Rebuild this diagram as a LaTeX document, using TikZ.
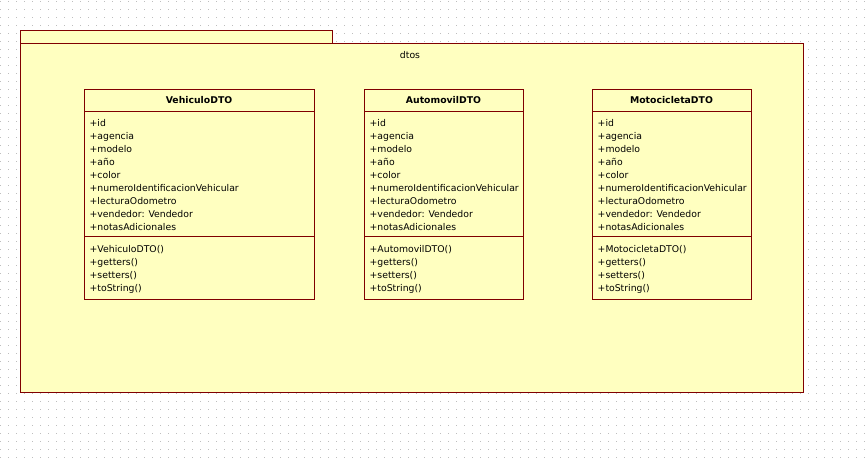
\documentclass[tikz,border=0pt]{standalone}
\usepackage{fontspec}
\setmainfont{DejaVu Sans}
\definecolor{umlfill}{RGB}{255,255,192}
\definecolor{umlline}{RGB}{128,0,0}
\definecolor{griddot}{RGB}{190,190,190}
\tikzset{
  umlbox/.style={draw=umlline, fill=umlfill, line width=1pt, inner sep=0pt},
  clsname/.style={font=\fontsize{9.3}{11}\selectfont\bfseries, anchor=base, inner sep=0pt},
  member/.style={font=\fontsize{9.3}{11}\selectfont, anchor=base west, inner sep=0pt},
  sepline/.style={draw=umlline, line width=1pt}
}
\begin{document}
\begin{tikzpicture}[x=1pt,y=-1pt]
\useasboundingbox (0,0) rectangle (865,462);
\fill[white] (0,0) rectangle (865,462);
% dotted grid
\foreach \gx in {0,8,...,864} {
  \foreach \gy in {1,9,...,457} {
    \fill[griddot] (\gx,\gy) rectangle +(1,1);
  }
}
% package
\node[umlbox, minimum width=312pt, minimum height=13pt, anchor=north west] (tab) at (20,30) {};
\node[umlbox, minimum width=783pt, minimum height=349pt, anchor=north west] (pkg) at (20,43) {};
\node[font=\fontsize{9.3}{11}\selectfont, anchor=base, inner sep=0pt] (pkgname) at (410,59) {dtos};
% classes
\foreach \cls/\L/\R in {VehiculoDTO/84/314, AutomovilDTO/364/523, MotocicletaDTO/592/751} {
  \pgfmathsetmacro\W{\R-\L}
  \pgfmathsetmacro\C{(\R+\L)/2}
  \node[umlbox, minimum width=\W pt, minimum height=210pt, anchor=north west] (\cls) at (\L,89.5) {};
  \draw[sepline] ([yshift=-22.5pt]\cls.north west) -- ([yshift=-22.5pt]\cls.north east);
  \draw[sepline] ([yshift=-147.5pt]\cls.north west) -- ([yshift=-147.5pt]\cls.north east);
  \node[clsname] (\cls-name) at (\C,104) {\cls};
  \foreach \t [count=\i] in {+id,+agencia,+modelo,+año,+color,+numeroIdentificacionVehicular,+lecturaOdometro,+vendedor: Vendedor,+notasAdicionales} {
    \node[member] (\cls-a\i) at (\L+5.5,126.5+13*\i-13) {\t};
  }
  \foreach \t [count=\i] in {+\cls(),+getters(),+setters(),+toString()} {
    \node[member] (\cls-m\i) at (\L+5.5,253+12.9*\i-12.9) {\t};
  }
}
\end{tikzpicture}
\end{document}
